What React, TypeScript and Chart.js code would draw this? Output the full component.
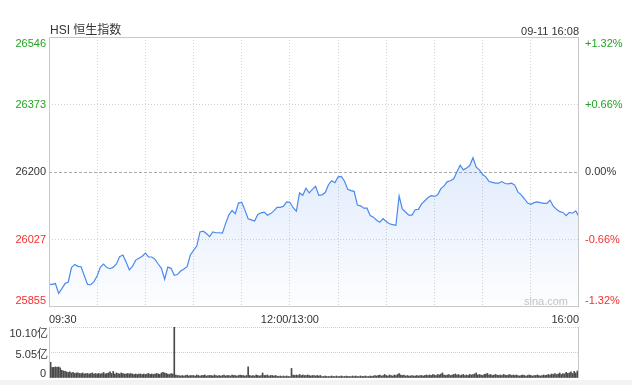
import React, { useEffect, useRef } from 'react';
import { Chart, registerables } from 'chart.js';

Chart.register(...registerables);

const FONT = '"Liberation Sans", Arial, "Noto Sans CJK SC", sans-serif';

const title = 'HSI 恒生指数';
const stamp = '09-11 16:08';
const watermark = 'sina.com';

// time axis (minutes since 09:30, lunch break removed)
const timeLabels = ['09:30', '12:00/13:00', '16:00'];
const timeLabelMinutes = [0, 150, 330];
const sessionMinutes = 330;

// price axis
const prevClose = 26200;
const priceTicks = [25855, 26027, 26200, 26373, 26546];
const pctTicks = ['-1.32%', '-0.66%', '0.00%', '+0.66%', '+1.32%'];

// index value, one reading every 2 minutes
const priceValues = [
  25913, 25913, 25915, 25890, 25902, 25915, 25919, 25956, 25964, 25959,
  25958, 25935, 25913, 25912, 25920, 25935, 25957, 25965, 25956, 25953,
  25957, 25965, 25984, 25988, 25970, 25950, 25959, 25975, 25980, 25985,
  25993, 25983, 25983, 25977, 25965, 25954, 25926, 25957, 25954, 25936,
  25938, 25947, 25952, 25958, 25988, 26000, 26011, 26047, 26049, 26043,
  26035, 26047, 26045, 26045, 26044, 26069, 26091, 26102, 26094, 26121,
  26123, 26103, 26081, 26078, 26075, 26092, 26096, 26098, 26090, 26094,
  26101, 26110, 26110, 26113, 26124, 26123, 26109, 26100, 26147, 26141,
  26159, 26147, 26156, 26164, 26141, 26142, 26148, 26168, 26178, 26173,
  26188, 26189, 26177, 26156, 26153, 26151, 26116, 26114, 26108, 26108,
  26089, 26085, 26077, 26072, 26081, 26074, 26068, 26066, 26064, 26139,
  26106, 26098, 26090, 26090, 26104, 26105, 26119, 26127, 26135, 26140,
  26138, 26142, 26158, 26165, 26176, 26178, 26183, 26201, 26218, 26206,
  26211, 26217, 26237, 26213, 26206, 26194, 26188, 26176, 26174, 26172,
  26172, 26176, 26171, 26170, 26172, 26167, 26149, 26142, 26132, 26121,
  26118, 26122, 26124, 26122, 26120, 26120, 26128, 26113, 26105, 26099,
  26097, 26089, 26097, 26095, 26101, 26086,
];
const priceStep = 2;

// turnover per minute, in 亿
const volumeValues = [
  5.7, 3.1, 2.1, 2.1, 2.2, 2.1, 2.2, 2.0, 1.5, 1.4,
  1.3, 1.2, 1.1, 1.2, 1.0, 1.1, 0.9, 1.0, 1.0, 0.9,
  0.9, 1.0, 0.8, 0.9, 0.9, 0.8, 0.9, 1.0, 0.8, 0.9,
  0.8, 0.9, 0.8, 0.9, 1.1, 0.8, 0.9, 1.0, 1.2, 0.9,
  1.3, 0.8, 1.0, 0.9, 0.8, 1.0, 0.9, 0.8, 0.8, 0.9,
  0.8, 0.9, 0.8, 0.7, 0.8, 0.7, 0.8, 0.8, 0.7, 0.8,
  0.7, 0.8, 0.9, 0.7, 0.8, 0.7, 0.8, 0.9, 0.8, 0.7,
  1.0, 1.1, 1.0, 0.9, 0.8, 0.7, 0.9, 0.8, 10.3, 0.6,
  0.5, 0.5, 0.4, 0.5, 0.4, 0.5, 0.6, 0.4, 0.5, 0.5,
  0.5, 0.4, 0.6, 0.5, 0.4, 0.5, 0.5, 0.6, 0.4, 0.5,
  0.5, 0.5, 0.4, 0.6, 0.5, 0.4, 0.5, 0.4, 0.5, 0.6,
  0.4, 0.5, 0.5, 0.4, 0.6, 0.5, 0.5, 0.4, 0.5, 0.6,
  0.5, 0.5, 0.4, 0.5, 2.2, 0.5, 0.4, 0.5, 0.4, 0.6,
  0.5, 0.4, 0.5, 1.0, 0.5, 0.5, 0.6, 0.4, 0.5, 0.5,
  0.4, 0.5, 0.4, 0.3, 0.4, 0.3, 0.4, 0.3, 0.4, 0.3,
  0.3, 1.9, 0.6, 0.5, 0.6, 0.5, 0.7, 0.5, 0.6, 0.5,
  0.5, 0.6, 0.5, 0.4, 0.5, 0.5, 0.4, 0.5, 0.4, 0.5,
  0.3, 0.3, 0.4, 0.3, 0.3, 0.3, 0.4, 0.3, 0.3, 0.4,
  0.3, 0.3, 0.4, 0.3, 0.3, 0.4, 0.3, 0.3, 0.3, 0.4,
  0.3, 0.4, 0.3, 0.3, 0.4, 0.3, 0.3, 0.4, 0.3, 0.3,
  0.4, 0.3, 0.4, 0.5, 0.4, 0.5, 0.6, 0.4, 0.5, 0.7,
  0.5, 0.4, 0.6, 0.5, 0.4, 0.6, 0.5, 0.7, 0.9, 0.6,
  0.5, 0.6, 0.4, 0.5, 0.4, 0.4, 0.5, 0.4, 0.4, 0.5,
  0.4, 0.5, 0.5, 0.4, 0.5, 0.6, 0.5, 0.6, 0.5, 0.7,
  0.6, 0.5, 0.7, 0.6, 0.8, 1.0, 0.6, 0.5, 0.6, 0.7,
  0.5, 0.6, 0.7, 0.8, 0.6, 0.7, 0.5, 0.6, 0.7, 0.5,
  0.6, 0.5, 0.7, 0.6, 0.7, 0.8, 1.0, 0.6, 0.7, 0.6,
  0.5, 0.7, 0.8, 0.9, 0.6, 0.7, 0.5, 0.6, 0.7, 0.6,
  0.5, 0.6, 0.5, 0.7, 0.6, 0.5, 0.6, 0.7, 0.5, 0.6,
  0.5, 0.6, 0.5, 0.4, 0.5, 0.6, 0.5, 0.4, 0.5, 0.6,
  0.5, 0.4, 0.5, 0.5, 0.6, 0.5, 0.4, 0.5, 0.6, 0.5,
  0.6, 0.7, 0.6, 0.8, 0.7, 0.9, 0.7, 0.8, 1.0, 0.7,
  0.9, 0.8, 1.1, 0.9, 1.0, 1.2, 0.9, 1.3, 1.0, 1.4,
  4.2,
];
const volTicks = [0, 5.05, 10.1];
const volTickLabels = ['0', '5.05亿', '10.10亿'];

const GREEN = '#22a322';
const RED = '#f23030';
const TEXT = '#333333';
const FRAME = '#c8c8c8';

function priceColor(v: number) {
  if (v > prevClose + 0.5) return GREEN;
  if (v < prevClose - 0.5) return RED;
  return TEXT;
}

const mainFrame = {
  id: 'mainFrame',
  beforeDatasetsDraw(chart: any) {
    const { ctx, chartArea } = chart;
    ctx.save();
    ctx.font = `11px ${FONT}`;
    ctx.fillStyle = '#c4c4c4';
    ctx.textAlign = 'right';
    ctx.textBaseline = 'alphabetic';
    ctx.fillText(watermark, chartArea.right - 11, chartArea.bottom - 2);
    ctx.restore();
  },
  afterDraw(chart: any) {
    const { ctx, chartArea } = chart;
    const { left, right, top, bottom } = chartArea;
    ctx.save();
    ctx.strokeStyle = FRAME;
    ctx.lineWidth = 1;
    ctx.setLineDash([]);
    ctx.strokeRect(left + 0.5, top + 0.5, right - left - 1, bottom - top - 1);

    ctx.fillStyle = TEXT;
    ctx.font = `12px ${FONT}`;
    ctx.textAlign = 'left';
    ctx.textBaseline = 'alphabetic';
    ctx.fillText(title, left + 1, top - 3);
    ctx.font = `11px ${FONT}`;
    ctx.textAlign = 'right';
    ctx.fillText(stamp, right, top - 2);

    const ys = chart.scales.y;
    ctx.font = `11px ${FONT}`;
    ctx.textBaseline = 'middle';
    priceTicks.forEach((v, i) => {
      let y = ys.getPixelForValue(v);
      if (i === priceTicks.length - 1) y += 7;
      if (i === 0) y -= 6;
      ctx.fillStyle = priceColor(v);
      ctx.textAlign = 'right';
      ctx.fillText(String(v), left - 3, y);
      ctx.textAlign = 'left';
      ctx.fillText(pctTicks[i], right + 6, y);
    });
    ctx.restore();
  },
};

const volFrame = {
  id: 'volFrame',
  afterDraw(chart: any) {
    const { ctx, chartArea } = chart;
    const { left, right, top, bottom } = chartArea;
    ctx.save();
    ctx.strokeStyle = FRAME;
    ctx.lineWidth = 1;
    ctx.beginPath();
    ctx.moveTo(left + 0.5, top);
    ctx.lineTo(left + 0.5, bottom);
    ctx.moveTo(right - 0.5, top);
    ctx.lineTo(right - 0.5, bottom);
    ctx.stroke();
    const ys = chart.scales.y;
    ctx.font = `11px ${FONT}`;
    ctx.fillStyle = TEXT;
    ctx.textBaseline = 'middle';
    ctx.textAlign = 'right';
    volTicks.forEach((v, i) => {
      let y = ys.getPixelForValue(v);
      if (i === volTicks.length - 1) y += 7;
      else if (i === 0) y -= 4;
      else y += 2;
      ctx.fillText(volTickLabels[i], v === 0 ? left - 3 : left - 1, y);
    });
    ctx.restore();
  },
};

export default function App() {
  const mainRef = useRef<HTMLCanvasElement | null>(null);
  const volRef = useRef<HTMLCanvasElement | null>(null);

  useEffect(() => {
    const priceMax = Math.max(...priceValues);
    const main = new Chart(mainRef.current as HTMLCanvasElement, {
      type: 'line',
      data: {
        datasets: [
          {
            data: priceValues.map((v, i) => ({ x: i * priceStep, y: v })),
            borderColor: '#4a89ee',
            borderWidth: 1.2,
            pointRadius: 0,
            tension: 0,
            fill: 'start',
            backgroundColor: (c: any) => {
              const chart = c.chart;
              const area = chart.chartArea;
              if (!area) return 'rgba(74,137,238,0.08)';
              const yTop = chart.scales.y.getPixelForValue(priceMax);
              const g = chart.ctx.createLinearGradient(0, yTop, 0, area.bottom);
              g.addColorStop(0, 'rgba(74,137,238,0.17)');
              g.addColorStop(1, 'rgba(74,137,238,0.01)');
              return g;
            },
          } as any,
        ],
      },
      options: {
        animation: false,
        responsive: false,
        events: [],
        layout: { padding: { top: 37, left: 0, right: 0, bottom: 0 } },
        plugins: { legend: { display: false }, tooltip: { enabled: false } },
        scales: {
          x: {
            type: 'linear',
            min: 0,
            max: sessionMinutes,
            ticks: {
              stepSize: 30,
              align: 'inner',
              autoSkip: false,
              maxRotation: 0,
              padding: 6,
              color: TEXT,
              font: { family: FONT, size: 11 },
              callback: (v: any) => {
                const k = timeLabelMinutes.indexOf(Number(v));
                return k >= 0 ? timeLabels[k] : '';
              },
            },
            grid: {
              drawTicks: false,
              color: (c: any) =>
                c.tick && (c.tick.value === 0 || c.tick.value === sessionMinutes)
                  ? 'rgba(0,0,0,0)'
                  : '#d2d2d2',
            },
            border: { display: false, dash: [1, 2] },
            afterFit: (s: any) => {
              s.height = 23;
            },
          } as any,
          y: {
            position: 'left',
            min: priceTicks[0],
            max: priceTicks[priceTicks.length - 1],
            afterBuildTicks: (s: any) => {
              s.ticks = priceTicks.map((v) => ({ value: v }));
            },
            ticks: { display: false },
            grid: {
              drawTicks: false,
              color: (c: any) => {
                const v = c.tick ? c.tick.value : 0;
                if (v === priceTicks[0] || v === priceTicks[priceTicks.length - 1]) return 'rgba(0,0,0,0)';
                return v === prevClose ? '#aaaaaa' : '#d2d2d2';
              },
            },
            border: {
              display: false,
              dash: (c: any) => (c.tick && c.tick.value === prevClose ? [3, 2] : [1, 2]),
            },
            afterFit: (s: any) => {
              s.width = 49;
            },
          } as any,
          y2: {
            position: 'right',
            min: priceTicks[0],
            max: priceTicks[priceTicks.length - 1],
            ticks: { display: false },
            grid: { display: false },
            border: { display: false },
            afterFit: (s: any) => {
              s.width = 53;
            },
          } as any,
        },
      },
      plugins: [mainFrame],
    });

    const vol = new Chart(volRef.current as HTMLCanvasElement, {
      type: 'bar',
      data: {
        datasets: [
          {
            data: volumeValues.map((v, i) => ({ x: i, y: v })),
            backgroundColor: '#4a4a4a',
            borderWidth: 0,
            barThickness: 1,
          } as any,
        ],
      },
      options: {
        animation: false,
        responsive: false,
        events: [],
        layout: { padding: { top: 5, left: 0, right: 0, bottom: 2 } },
        plugins: { legend: { display: false }, tooltip: { enabled: false } },
        scales: {
          x: { type: 'linear', min: 0, max: sessionMinutes, offset: false, display: false } as any,
          y: {
            position: 'left',
            min: 0,
            max: volTicks[volTicks.length - 1],
            afterBuildTicks: (s: any) => {
              s.ticks = volTicks.map((v) => ({ value: v }));
            },
            ticks: { display: false },
            grid: {
              drawTicks: false,
              color: (c: any) => (c.tick && c.tick.value === 0 ? 'rgba(0,0,0,0)' : '#cfcfcf'),
            },
            border: { display: false, dash: [1, 1] },
            afterFit: (s: any) => {
              s.width = 49;
            },
          } as any,
          y2: {
            position: 'right',
            min: 0,
            max: 1,
            ticks: { display: false },
            grid: { display: false },
            border: { display: false },
            afterFit: (s: any) => {
              s.width = 53;
            },
          } as any,
        },
      },
      plugins: [volFrame],
    });

    return () => {
      main.destroy();
      vol.destroy();
    };
  }, []);

  return (
    <div style={{ position: 'fixed', left: 0, top: 0, width: 632, height: 385, background: '#fff', overflow: 'hidden' }}>
      <canvas ref={mainRef} width={632} height={330} style={{ position: 'absolute', left: 0, top: 0 }} />
      <canvas ref={volRef} width={632} height={58} style={{ position: 'absolute', left: 0, top: 322 }} />
      <div style={{ position: 'absolute', left: 0, top: 380, width: 632, height: 5, background: '#f3f3f3' }} />
    </div>
  );
}
